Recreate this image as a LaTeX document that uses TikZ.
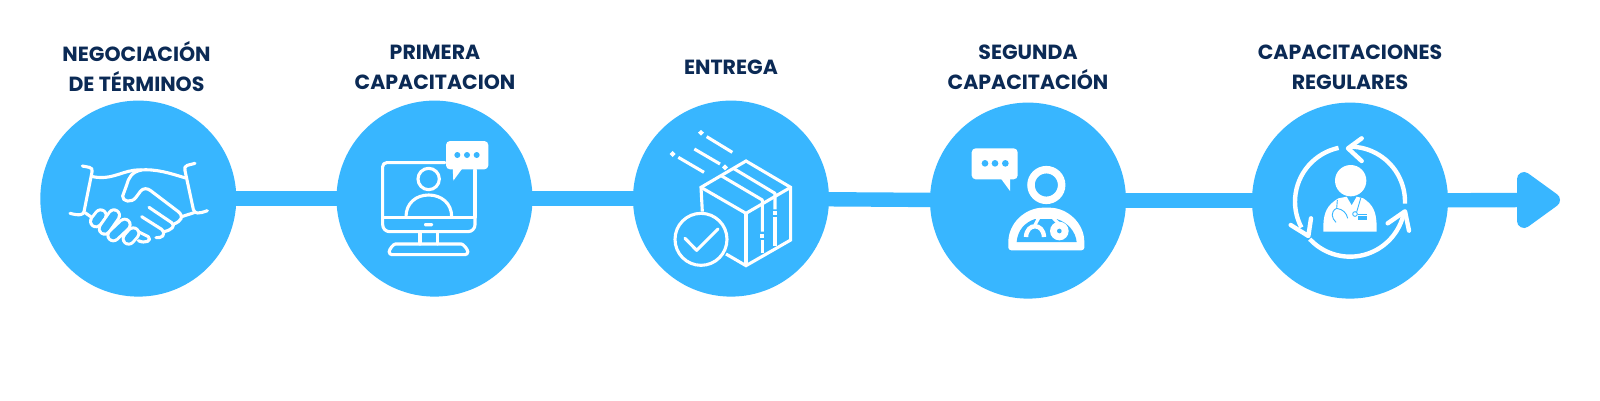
\documentclass[tikz,border=0pt]{standalone}
\usepackage{fontspec}
\setmainfont{Poppins}
\definecolor{sky}{HTML}{38B6FF}
\definecolor{navy}{HTML}{0B2A55}
\tikzset{
  stepcircle/.style={circle,fill=sky,inner sep=0pt,minimum size=196pt},
  link/.style={draw=sky,line width=14.4pt,shorten <=-3pt,shorten >=-3pt},
  headtip/.style={draw=sky,fill=sky,line width=14pt,line join=round},
  title/.style={align=center,text=navy,inner sep=0pt,font=\fontsize{20.5}{30}\selectfont\bfseries},
  ink/.style={draw=white,line width=3.1pt,line cap=round,line join=round},
  iconat/.style={shift={(#1,90)},x=0.33333pt,y=-0.33333pt},
}
\newcommand{\fingerbit}[2]{%
  \draw[white,line width=14pt,line cap=round] #1 -- #2;
  \draw[sky,line width=8pt,line cap=round] #1 -- #2;}
\begin{document}
\begin{tikzpicture}[x=1pt,y=-1pt]
\useasboundingbox (0,0) rectangle (1600,400);
\fill[white] (0,0) rectangle (1600,400);
% circles
\node[stepcircle] (c1) at (138.3,198.6) {};
\node[stepcircle] (c2) at (434.5,198.6) {};
\node[stepcircle] (c3) at (731,198.6) {};
\node[stepcircle] (c4) at (1028,200.6) {};
\node[stepcircle] (c5) at (1350,200.6) {};
\coordinate (tail) at (1528,200);
% connectors
\draw[link] (c1) -- (c2);
\draw[link] (c2) -- (c3);
\draw[link] (c3) -- (c4);
\draw[link] (c4) -- (c5);
\draw[link] (c5) -- (tail);
\coordinate (h1) at (1524,179);
\coordinate (h2) at (1553,200);
\coordinate (h3) at (1524,221);
\draw[headtip] (h1) -- (h2) -- (h3) -- cycle;
% titles
\node[title] (t1) at (136.5,66.8) {NEGOCIACIÓN\\DE TÉRMINOS};
\node[title] (t2) at (435,67.4) {PRIMERA\\CAPACITACION};
\node[title] (t3) at (731,67.5) {ENTREGA};
\node[title] (t4) at (1028,67.4) {SEGUNDA\\CAPACITACIÓN};
\node[title] (t5) at (1350,67.4) {CAPACITACIONES\\REGULARES};
% handshake
\begin{scope}[iconat=30]
\draw[ink] (157,228) -- (178,232) .. controls (186,234) and (188,238) .. (186,246) -- (162,365) .. controls (160,374) and (150,378) .. (120,370);
\draw[ink] (495,220) -- (472,226) .. controls (464,228) and (463,234) .. (465,242) -- (490,358) .. controls (494,372) and (505,372) .. (532,362);
\draw[ink] (188,260) .. controls (250,272) and (280,238) .. (330,240) .. controls (380,236) and (420,250) .. (467,264);
\draw[ink] (335,240) .. controls (305,245) and (295,265) .. (290,285) -- (278,318) .. controls (276,335) and (305,340) .. (318,322) -- (332,303) .. controls (340,294) and (352,294) .. (362,302) -- (445,365) .. controls (462,380) and (455,392) .. (432,402);
\draw[ink] (357,352) -- (425,398) .. controls (438,408) and (425,420) .. (402,425);
\draw[ink] (335,380) -- (395,418) .. controls (410,435) and (395,445) .. (378,443);
\draw[ink] (325,425) -- (355,440) .. controls (368,452) and (345,462) .. (325,452);
\draw[ink] (455,380) -- (492,368);
\draw[ink] (165,368) -- (185,382);
\fingerbit{(212,376)}{(198,394)}
\fingerbit{(252,376)}{(224,416)}
\fingerbit{(284,404)}{(250,436)}
\fingerbit{(310,430)}{(296,446)}
\end{scope}
% monitor
\begin{scope}[iconat=330]
\draw[ink,rounded corners=4pt] (345,218) -- (158,218) -- (158,382);
\draw[ink,rounded corners=7pt] (158,382) -- (158,425) -- (435,425) -- (435,382);
\draw[ink] (435,382) -- (435,240);
\draw[ink] (158,382) -- (435,382);
\fill[white,rounded corners=1.2pt] (282,399) rectangle (309,409);
\draw[ink] (270,425) -- (270,462) (322,425) -- (322,462);
\draw[ink,rounded corners=3pt] (177,494) .. controls (178,478) and (190,462) .. (205,462) -- (385,462) .. controls (400,462) and (413,478) .. (414,494) -- cycle;
\draw[ink] (296,267) circle (32);
\draw[ink] (228,380) .. controls (228,340) and (258,315) .. (296,315) .. controls (334,315) and (365,340) .. (365,380);
\fill[white,rounded corners=4pt] (348,153) rectangle (475,238);
\fill[white] (368,230) -- (370,272) -- (398,234) -- cycle;
\fill[sky] (382,195) circle (9) (411,195) circle (9) (440,195) circle (9);
\end{scope}
% box
\begin{scope}[iconat=625]
\draw[ink,line cap=butt,line join=miter] (232,365) -- (228,292) -- (363,213) -- (497,292) -- (497,450) -- (363,527) -- (303,492);
\draw[ink,line cap=butt,line join=miter] (228,292) -- (363,370) -- (497,292);
\draw[ink,line cap=butt] (363,370) -- (363,527);
\draw[ink,line cap=butt] (290,258) -- (412,330) -- (412,425);
\draw[ink,line cap=butt] (412,450) -- (412,488);
\draw[ink,line cap=butt] (325,235) -- (450,310) -- (450,358);
\draw[ink,line cap=butt] (450,380) -- (450,468);
\fill[white] (406,431) rectangle (418,443);
\fill[white] (444,364) rectangle (456,376);
\draw[ink,line cap=butt] (245,140) -- (322,187);
\draw[ink,line cap=butt] (160,202) -- (237,247);
\draw[ink,line cap=butt] (208,177) -- (285,222);
\fill[white] (228,120) -- (237,128) -- (228,137) -- (219,128) -- cycle;
\fill[white] (143,183) -- (152,192) -- (143,201) -- (134,192) -- cycle;
\fill[white] (300,223) -- (309,232) -- (300,241) -- (291,232) -- cycle;
\draw[ink,fill=sky] (228,448) circle (78);
\draw[ink] (180,445) -- (215,481) -- (279,417);
\end{scope}
% chat and doctor
\begin{scope}[iconat=920]
\fill[white,rounded corners=4pt] (155,175) rectangle (293,268);
\fill[white] (240,262) -- (270,303) -- (270,262) -- cycle;
\fill[sky] (195,220) circle (10) (225,220) circle (10) (256,220) circle (10);
\draw[white,line width=7.5pt] (379,285) circle (46);
\fill[white,rounded corners=3pt] (265,481) -- (265,465) .. controls (265,400) and (315,353) .. (379,353) .. controls (443,353) and (493,400) .. (493,465) -- (493,481) -- cycle;
\fill[sky] (290,456) .. controls (293,420) and (315,397) .. (345,387) -- (410,387) .. controls (443,397) and (467,425) .. (470,456) -- cycle;
\draw[white,line width=3.2pt] (360,376) -- (345,405);
\draw[white,line width=3.2pt] (396,380) -- (415,400);
\draw[white,line width=4.4pt] (318,441) .. controls (320,398) and (370,398) .. (372,441);
\fill[white] (418,423) circle (28);
\fill[sky] (418,423) circle (7);
\end{scope}
% cycle and doctor
\begin{scope}[iconat=1240]
\draw[ink,line width=4.4pt,line cap=butt] plot[smooth,domain=-2:90,samples=24] ({330+165*cos(\x)},{335-165*sin(\x)});
\draw[ink,line width=4.4pt,line cap=butt] plot[smooth,domain=102:208,samples=24] ({330+165*cos(\x)},{335-165*sin(\x)});
\draw[ink,line width=4.4pt,line cap=butt] plot[smooth,domain=223:350,samples=24] ({330+165*cos(\x)},{335-165*sin(\x)});
\draw[ink,line width=4.4pt] (365,145) -- (324,175) -- (365,213);
\draw[ink,line width=4.4pt] (213,385) -- (205,438) -- (152,405);
\draw[ink,line width=4.4pt] (443,400) -- (495,364) -- (507,422);
\fill[white] (332,272) circle (47);
\fill[white] (250,425) -- (250,405) .. controls (252,365) and (262,345) .. (295,325) -- (320,320) -- (335,346) -- (350,320) -- (370,325) .. controls (400,345) and (408,365) .. (410,405) -- (410,425) -- cycle;
\draw[sky,line width=0.9pt] (292,330) -- (290,355) .. controls (270,365) and (275,385) .. (288,397);
\draw[sky,line width=0.9pt] (290,355) .. controls (310,358) and (320,370) .. (323,385);
\draw[sky,line width=0.9pt] (362,325) -- (350,366);
\draw[sky,line width=0.9pt] (345,372) circle (7);
\draw[sky,line width=0.9pt] (353,372) -- (380,372);
\fill[sky] (353,378) rectangle (380,389);
\end{scope}
\end{tikzpicture}
\end{document}
